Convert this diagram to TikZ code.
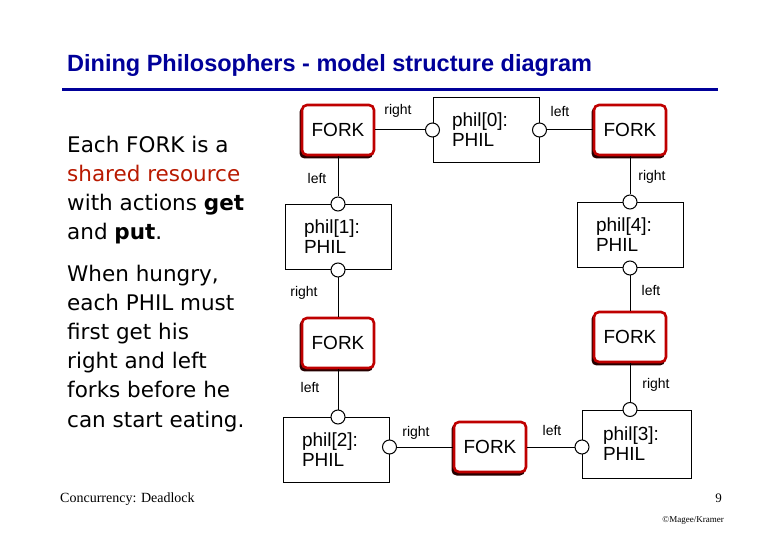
\documentclass[tikz,border=0pt]{standalone}
\usepackage{fontspec}
\setmainfont{Liberation Sans}
\newfontfamily\comic{DejaVu Sans}
\newfontfamily\serifx{Liberation Serif}
\begin{document}
\begin{tikzpicture}[x=1pt,y=-1pt,
  fork/.style={draw=red!75!black,line width=2.6pt,rounded corners=5pt,fill=white,minimum width=72pt,minimum height=50pt,font=\fontsize{19}{20}\selectfont,inner sep=0pt},
  phil/.style={draw,line width=1pt,fill=white,minimum width=106pt,minimum height=65pt,font=\fontsize{19}{20}\selectfont,align=left,text width=68pt,inner sep=0pt},
  port/.style={circle,draw,line width=1pt,fill=white,minimum size=14pt,inner sep=0pt},
  lbl/.style={font=\fontsize{14}{14}\selectfont},
  lt/.style={anchor=base west,font=\comic\fontsize{21.5}{22}\selectfont,inner sep=0pt},
  wire/.style={line width=1pt}]
\useasboundingbox (0,0) rectangle (780,540);
\node[anchor=base west,inner sep=0pt,text=blue!60!black,font=\bfseries\fontsize{23.5}{26}\selectfont] (title) at (67,72) {Dining Philosophers - model structure diagram};
\draw[line width=3pt,blue!60!black] (62,90) -- (718,90);
\node[lt] (t1) at (67,153) {Each FORK is a};
\node[lt,text=red!65!black!80!orange] (t2) at (67,182) {shared resource};
\node[lt] (t3) at (67,211) {with actions \textbf{get}};
\node[lt] (t4) at (67,240) {and \textbf{put}.};
\node[lt] (t5) at (67,282) {When hungry,};
\node[lt] (t6) at (67,311) {each PHIL must};
\node[lt] (t7) at (67,340) {first get his};
\node[lt] (t8) at (67,369) {right and left};
\node[lt] (t9) at (67,398) {forks before he};
\node[lt] (t10) at (67,427) {can start eating.};
% forks with shadow
\foreach \n/\x/\y in {f1/338/130,f2/630/130,f3/338/343,f4/630/337,f5/490/447}{
  \fill[black!85!red,rounded corners=5pt] (\x-38.5,\y-23) rectangle (\x+35,\y+28.5);
  \node[fork] (\n) at (\x,\y) {FORK};
}
\node[phil] (p0) at (486,130) {phil[0]:\\PHIL};
\node[phil] (p1) at (338,237) {phil[1]:\\PHIL};
\node[phil] (p4) at (630,235) {phil[4]:\\PHIL};
\node[phil] (p2) at (336,450) {phil[2]:\\PHIL};
\node[phil,minimum width=109pt,minimum height=68pt] (p3) at (637,444) {phil[3]:\\PHIL};
\node[port] (p0a) at (p0.west) {};
\node[port] (p0b) at (p0.east) {};
\node[port] (p1a) at (p1.north) {};
\node[port] (p1b) at (p1.south) {};
\node[port] (p4a) at (p4.north) {};
\node[port] (p4b) at (p4.south) {};
\node[port] (p2a) at (p2.north -| f3) {};
\node[port] (p2b) at (p2.east |- f5) {};
\node[port] (p3a) at (p3.north -| f4) {};
\node[port] (p3b) at (p3.west |- f5) {};
\draw[wire] (f1.east) -- (p0a.west);
\draw[wire] (p0b.east) -- (f2.west);
\draw[wire] (f1.south) -- (p1a.north);
\draw[wire] (p1b.south) -- (f3.north);
\draw[wire] (f3.south) -- (p2a.north);
\draw[wire] (p2b.east) -- (f5.west);
\draw[wire] (f5.east) -- (p3b.west);
\draw[wire] (f2.south) -- (p4a.north);
\draw[wire] (p4b.south) -- (f4.north);
\draw[wire] (f4.south) -- (p3a.north);
\node[lbl] (l1) at (398,111) {right};
\node[lbl] (l2) at (560,111) {left};
\node[lbl] (l3) at (317,178) {left};
\node[lbl] (l4) at (652,177) {right};
\node[lbl] (l5) at (304,293) {right};
\node[lbl] (l6) at (651,290) {left};
\node[lbl] (l7) at (310,387) {left};
\node[lbl] (l8) at (656,385) {right};
\node[lbl] (l9) at (416,433) {right};
\node[lbl] (l10) at (552,430) {left};
\node[anchor=base west,inner sep=0pt,font=\serifx\fontsize{14}{14}\selectfont] (ft) at (60,502) {Concurrency: Deadlock};
\node[anchor=base east,inner sep=0pt,font=\serifx\fontsize{13}{14}\selectfont] (pg) at (722,502) {9};
\node[anchor=base east,inner sep=0pt,font=\serifx\fontsize{9}{10}\selectfont] (cr) at (724,522) {©Magee/Kramer};
\end{tikzpicture}
\end{document}
